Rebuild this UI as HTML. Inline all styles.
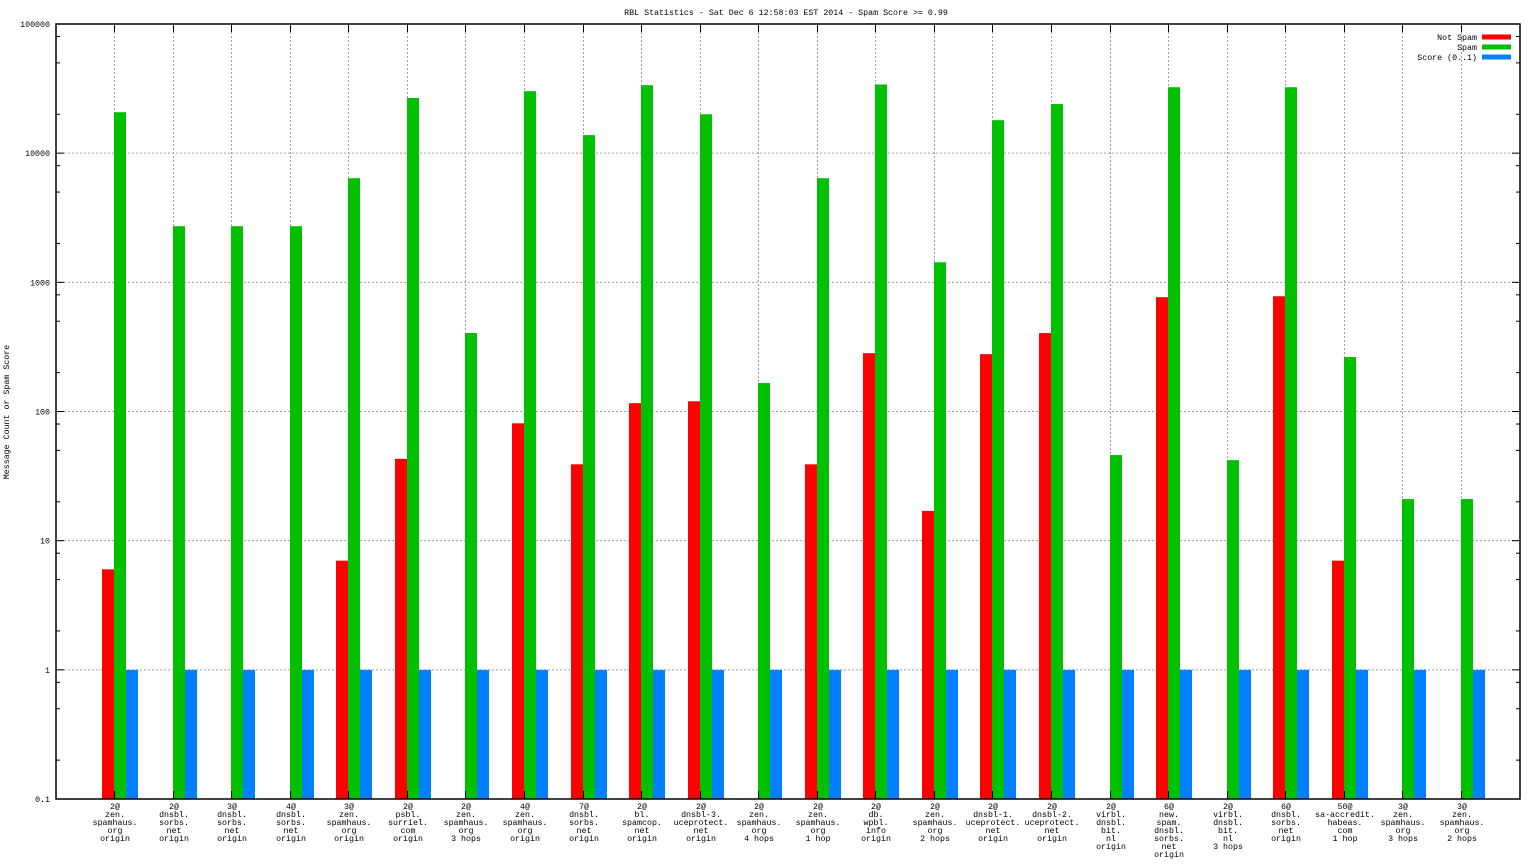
<!DOCTYPE html>
<html><head><meta charset="utf-8"><style>
html,body{margin:0;padding:0;background:#fff;}
svg{display:block;font-family:"Liberation Mono",monospace;}
</style></head><body>
<svg id="chart" width="1536" height="864" viewBox="0 0 1536 864" xmlns="http://www.w3.org/2000/svg">
<text x="786" y="15" font-size="8.3" text-anchor="middle">RBL Statistics - Sat Dec  6 12:58:03 EST 2014 - Spam Score &gt;= 0.99</text>
<text x="0" y="0" font-size="8.3" text-anchor="middle" transform="translate(9,412) rotate(-90)">Message Count or Spam Score</text>
<g id="grid"></g>
<g id="bars"></g>
<g id="axes"></g>
<g id="legend"></g>
</svg>
<script>
const categories = [
 ["2@","zen.","spamhaus.","org","origin"],
 ["2@","dnsbl.","sorbs.","net","origin"],
 ["3@","dnsbl.","sorbs.","net","origin"],
 ["4@","dnsbl.","sorbs.","net","origin"],
 ["3@","zen.","spamhaus.","org","origin"],
 ["2@","psbl.","surriel.","com","origin"],
 ["2@","zen.","spamhaus.","org","3 hops"],
 ["4@","zen.","spamhaus.","org","origin"],
 ["7@","dnsbl.","sorbs.","net","origin"],
 ["2@","bl.","spamcop.","net","origin"],
 ["2@","dnsbl-3.","uceprotect.","net","origin"],
 ["2@","zen.","spamhaus.","org","4 hops"],
 ["2@","zen.","spamhaus.","org","1 hop"],
 ["2@","db.","wpbl.","info","origin"],
 ["2@","zen.","spamhaus.","org","2 hops"],
 ["2@","dnsbl-1.","uceprotect.","net","origin"],
 ["2@","dnsbl-2.","uceprotect.","net","origin"],
 ["2@","virbl.","dnsbl.","bit.","nl","origin"],
 ["6@","new.","spam.","dnsbl.","sorbs.","net","origin"],
 ["2@","virbl.","dnsbl.","bit.","nl","3 hops"],
 ["6@","dnsbl.","sorbs.","net","origin"],
 ["50@","sa-accredit.","habeas.","com","1 hop"],
 ["3@","zen.","spamhaus.","org","3 hops"],
 ["3@","zen.","spamhaus.","org","2 hops"]
];
const notSpam = [6,0,0,0,7,43,0,81,39,116,120,0,39,283,17,278,405,0,768,0,780,7,0,0];
const spam = [20750,2720,2720,2720,6400,26700,405,30200,13800,33600,20000,166,6400,34000,1430,18000,24000,46,32400,42,32400,264,21,21];
const score = [1,1,1,1,1,1,1,1,1,1,1,1,1,1,1,1,1,1,1,1,1,1,1,1];
const yTicks = [0.1,1,10,100,1000,10000,100000];
const yTickLabels = ["0.1","1","10","100","1000","10000","100000"];
const legendLabels = ["Not Spam","Spam","Score (0..1)"];

const NS="http://www.w3.org/2000/svg";
const L=56,R=1520,T=24,B=799;
const yMin=-1,yMax=5;
function y(v){return B-(Math.log10(v)-yMin)/(yMax-yMin)*(B-T);}
function x(i){return L+(i+1)*(R-L)/(categories.length+1);}
const BW=12;
function mk(parent,tag,attrs){const e=document.createElementNS(NS,tag);for(const k in attrs)e.setAttribute(k,attrs[k]);document.getElementById(parent).appendChild(e);return e;}

yTicks.forEach((t,k)=>{
  const yy=y(t);
  if(k>0&&k<yTicks.length-1){
    const g=mk("grid","line",{x1:L,x2:R,y1:yy,y2:yy,stroke:"#a0a0a0","stroke-dasharray":"2,2","stroke-width":1});
    
    
  }
  const tl=mk("axes","text",{x:L-6,y:yy+3,"font-size":8.3,"text-anchor":"end"});
  tl.textContent=yTickLabels[k];
  
  
  [[L,L+8],[R-8,R]].forEach(p=>{
    const tk=mk("axes","line",{x1:p[0],x2:p[1],y1:yy,y2:yy,stroke:"#000","stroke-width":1});
    
    
  });
  if(k<yTicks.length-1){
    [2,5,8].forEach(m=>{
      const my=y(t*m);
      [[L,L+4],[R-4,R]].forEach(p=>{
        const mt=mk("axes","line",{x1:p[0],x2:p[1],y1:my,y2:my,stroke:"#000","stroke-width":1});
        
        
      });
    });
  }
});

categories.forEach((c,i)=>{
  const cx=Math.floor(x(i));
  const g=mk("grid","line",{x1:cx+0.5,x2:cx+0.5,y1:T,y2:B,stroke:"#a0a0a0","stroke-dasharray":"2,2","stroke-width":1});
  
  
  [[T,T+8],[B-8,B]].forEach(p=>{
    const tk=mk("axes","line",{x1:cx+0.5,x2:cx+0.5,y1:p[0],y2:p[1],stroke:"#000","stroke-width":1});
    
    
  });
  const t=mk("axes","text",{x:cx+1,y:809,"font-size":8.3,"text-anchor":"middle"});
  
  
  c.forEach((ln,j)=>{const s=document.createElementNS(NS,"tspan");s.setAttribute("x",cx+1);s.setAttribute("dy",j?8:0);s.textContent=ln;t.appendChild(s);});
  const series=[[notSpam,"#ff0000",-BW,"bar-not-spam"],[spam,"#00c000",0,"bar-spam"],[score,"#0080ff",BW,"bar-score"]];
  series.forEach(s=>{
    const v=s[0][i];
    if(v>0.1){
      const top=y(v);
      const r=mk("bars","rect",{x:cx+s[2],y:top,width:BW,height:B-top,fill:s[1]});
      
      
    }
  });
});

const bd=mk("axes","rect",{x:L,y:T,width:R-L,height:B-T,fill:"none",stroke:"#000","stroke-width":1.5});



const lc=["#ff0000","#00c000","#0080ff"];
legendLabels.forEach((lab,k)=>{
  const ly=37+k*10;
  const t=mk("legend","text",{x:1477,y:ly+3,"font-size":8.3,"text-anchor":"end"});
  t.textContent=lab;
  
  
  const r=mk("legend","rect",{x:1482,y:ly-2.5,width:29,height:5,fill:lc[k]});
  
  
});
</script>
</body></html>
